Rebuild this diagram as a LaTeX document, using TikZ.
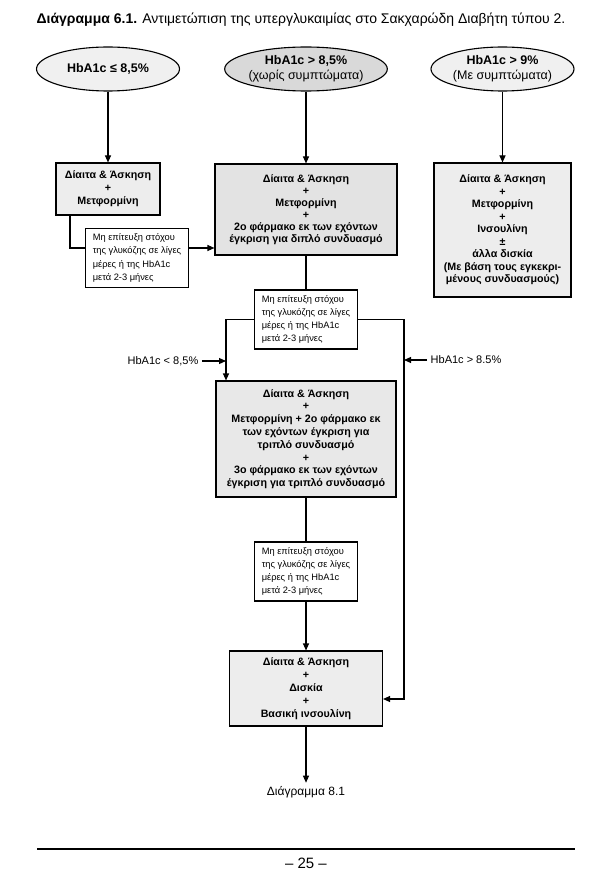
\documentclass[tikz,border=0pt]{standalone}
\usepackage{fontspec}
\setmainfont{Liberation Sans}
\usepackage{tikz}
\usetikzlibrary{
  shapes.geometric,
  arrows.meta,
  positioning,
  calc
}

\begin{document}
\begin{tikzpicture}[x=1pt, y=-1pt,
  oval/.style={ellipse, draw=black, line width=1.1pt, fill=gray!12, minimum width=143pt, minimum height=44pt, inner sep=0pt, align=center, font=\fontsize{12.5}{15}\selectfont},
  stage/.style={rectangle, draw=black, line width=1.1pt, fill=gray!14, inner sep=0pt, align=center, font=\fontsize{10.7}{12}\selectfont\bfseries},
  note/.style={rectangle, draw=black, line width=1.1pt, fill=white, minimum width=103pt, minimum height=59pt, inner sep=0pt, align=left, font=\fontsize{9.3}{13.3}\selectfont},
  flow/.style={-{Triangle[length=7pt,width=6pt]}, line width=1.1pt},
  link/.style={line width=1.1pt},
  cond/.style={font=\fontsize{11}{13}\selectfont}
]
  \useasboundingbox (0,0) rectangle (611,885);

  \node[font=\fontsize{14}{16}\selectfont] (title) at (301,20) {\textbf{Διάγραμμα 6.1.} Αντιμετώπιση της υπεργλυκαιμίας στο Σακχαρώδη Διαβήτη τύπου 2.};

  % entry conditions
  \node[oval] (e1) at (108,69) {\textbf{HbA1c ≤ 8,5\%}};
  \node[oval, fill=gray!30] (e2) at (306,69) {\textbf{HbA1c > 8,5\%}\\(χωρίς συμπτώματα)};
  \node[oval] (e3) at (502.5,69) {\textbf{HbA1c > 9\%}\\(Με συμπτώματα)};

  % treatment stages
  \node[stage, minimum width=104pt, minimum height=52pt, font=\fontsize{10.7}{13}\selectfont\bfseries] (b1) at (108,189) {Δίαιτα \& Άσκηση\\+\\Μετφορμίνη};
  \node[stage, fill=gray!22, minimum width=182pt, minimum height=91pt] (b2) at (306,209.5) {Δίαιτα \& Άσκηση\\+\\Μετφορμίνη\\+\\2ο φάρμακο εκ των εχόντων\\έγκριση για διπλό συνδυασμό};
  \node[stage, minimum width=137pt, minimum height=134pt, font=\fontsize{10.7}{12.5}\selectfont\bfseries] (b3) at (502.5,230) {Δίαιτα \& Άσκηση\\+\\Μετφορμίνη\\+\\Ινσουλίνη\\±\\άλλα δισκία\\(Με βάση τους εγκεκρι-\\μένους συνδυασμούς)};
  \node[stage, fill=gray!18, minimum width=180pt, minimum height=116pt, font=\fontsize{10.7}{12.8}\selectfont\bfseries] (b4) at (306,439) {Δίαιτα \& Άσκηση\\+\\Μετφορμίνη + 2ο φάρμακο εκ\\των εχόντων έγκριση για\\τριπλό συνδυασμό\\+\\3ο φάρμακο εκ των εχόντων\\έγκριση για τριπλό συνδυασμό};
  \node[stage, minimum width=153pt, minimum height=75pt, font=\fontsize{10.7}{13}\selectfont\bfseries] (b5) at (306,688.5) {Δίαιτα \& Άσκηση\\+\\Δισκία\\+\\Βασική ινσουλίνη};

  % failure notes
  \node[note] (n1) at (137,258) {Μη επίτευξη στόχου\\της γλυκόζης σε λίγες\\μέρες ή της HbA1c\\μετά 2-3 μήνες};
  \node[note] (n2) at (306,319.5) {Μη επίτευξη στόχου\\της γλυκόζης σε λίγες\\μέρες ή της HbA1c\\μετά 2-3 μήνες};
  \node[note] (n3) at (306,571.5) {Μη επίτευξη στόχου\\της γλυκόζης σε λίγες\\μέρες ή της HbA1c\\μετά 2-3 μήνες};

  \node[cond] (cl) at (163,361) {HbA1c < 8,5\%};
  \node[cond] (cr) at (466,360) {HbA1c > 8.5\%};
  \node[cond, font=\fontsize{12}{14}\selectfont] (next) at (306,792) {Διάγραμμα 8.1};

  \coordinate (j1) at (70,248);
  \coordinate (jl) at (226,320);
  \coordinate (jr) at (404,320);
  \coordinate (j5) at ($(b5.east)+(0,10.5)$);

  \draw[flow] (e1) -- (b1);
  \draw[flow] (e2) -- (b2);
  \draw[flow] (e3) -- (b3);
  \draw[link] (b1.south -| j1) -- (j1) -- (j1 -| n1.west);
  \draw[flow] (j1 -| n1.east) -- (j1 -| b2.west);
  \draw[link] (b2) -- (n2);
  \draw[flow] (n2.west) -| (jl |- b4.north);
  \draw[flow] (n2.east) -| (jr |- j5) -- (j5);
  \draw[flow] (cl.east) -- (cl -| jl);
  \draw[flow] (cr.west) -- (cr -| jr);
  \draw[link] (b4) -- (n3);
  \draw[flow] (n3) -- (b5);
  \draw[flow] (b5) -- (next);

  % page footer
  \draw[line width=2pt] (37,849) -- (575,849);
  \node[font=\fontsize{15}{17}\selectfont] (page) at (306,863) {– 25 –};
\end{tikzpicture}
\end{document}
